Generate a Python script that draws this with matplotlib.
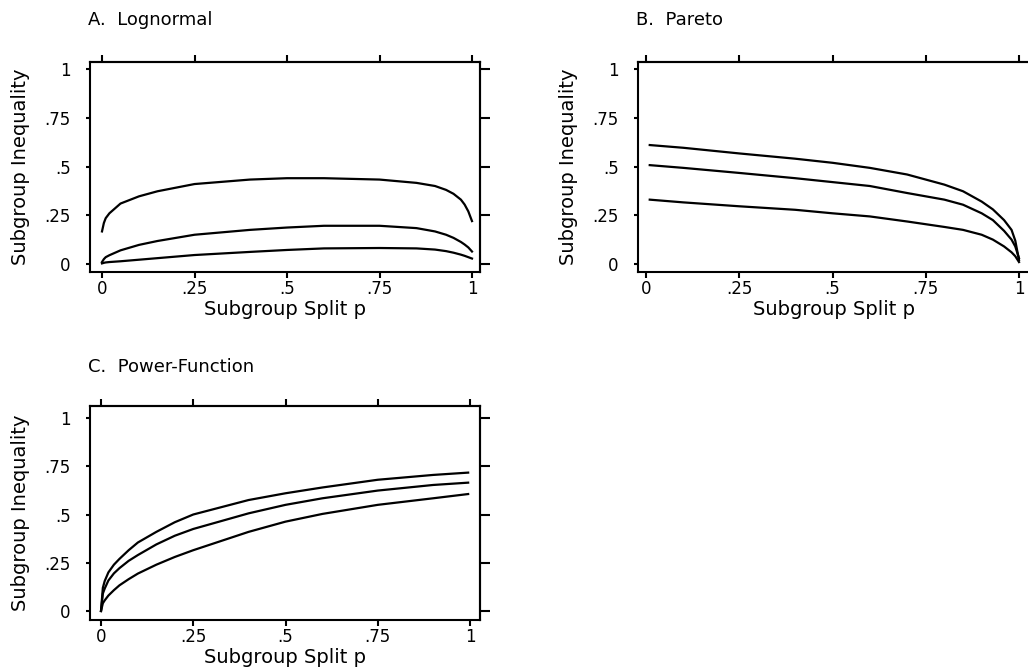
import matplotlib
matplotlib.use("Agg")
import matplotlib.pyplot as plt

# ---------------- data ----------------
p_lognormal = [0, 0.005, 0.01, 0.02, 0.05, 0.1, 0.15, 0.25, 0.4, 0.5, 0.6, 0.75, 0.85, 0.9, 0.93, 0.95, 0.97, 0.98, 0.99, 1.0]
lognormal_top = [0.167, 0.21, 0.235, 0.26, 0.31, 0.347, 0.373, 0.41, 0.433, 0.44, 0.44, 0.433, 0.416, 0.40, 0.38, 0.36, 0.33, 0.305, 0.27, 0.22]
lognormal_mid = [0.01, 0.025, 0.035, 0.045, 0.07, 0.098, 0.118, 0.15, 0.175, 0.187, 0.196, 0.196, 0.184, 0.167, 0.15, 0.134, 0.113, 0.1, 0.085, 0.064]
lognormal_bot = [0.003, 0.006, 0.008, 0.01, 0.014, 0.022, 0.03, 0.046, 0.062, 0.072, 0.08, 0.082, 0.08, 0.074, 0.066, 0.058, 0.048, 0.042, 0.035, 0.028]

p_pareto = [0.01, 0.1, 0.25, 0.4, 0.5, 0.6, 0.7, 0.8, 0.85, 0.9, 0.93, 0.96, 0.98, 0.99, 1.0]
pareto_top = [0.61, 0.596, 0.567, 0.54, 0.519, 0.493, 0.459, 0.407, 0.373, 0.32, 0.28, 0.225, 0.175, 0.12, 0.02]
pareto_mid = [0.507, 0.493, 0.467, 0.44, 0.42, 0.40, 0.364, 0.33, 0.304, 0.26, 0.225, 0.17, 0.125, 0.09, 0.03]
pareto_bot = [0.33, 0.316, 0.296, 0.278, 0.26, 0.244, 0.218, 0.19, 0.175, 0.15, 0.125, 0.09, 0.06, 0.04, 0.01]

p_power = [0, 0.005, 0.01, 0.02, 0.035, 0.05, 0.075, 0.1, 0.15, 0.2, 0.25, 0.4, 0.5, 0.6, 0.75, 0.9, 0.995]
power_top = [0.0, 0.12, 0.155, 0.2, 0.24, 0.27, 0.315, 0.355, 0.41, 0.46, 0.50, 0.575, 0.61, 0.64, 0.68, 0.705, 0.717]
power_mid = [0.0, 0.09, 0.116, 0.158, 0.195, 0.222, 0.26, 0.29, 0.345, 0.39, 0.425, 0.506, 0.55, 0.584, 0.624, 0.653, 0.665]
power_bot = [0.0, 0.04, 0.055, 0.08, 0.108, 0.133, 0.165, 0.194, 0.24, 0.28, 0.315, 0.41, 0.463, 0.503, 0.55, 0.584, 0.606]

tick_vals = [0, 0.25, 0.5, 0.75, 1]
tick_labels = ["0", ".25", ".5", ".75", "1"]
titles = ["A.  Lognormal", "B.  Pareto", "C.  Power-Function"]
xlabel = "Subgroup Split p"
ylabel = "Subgroup Inequality"

# ---------------- figure ----------------
W, H = 1028, 671
fig = plt.figure(figsize=(W / 100, H / 100), dpi=100)
plt.rcParams["font.family"] = "DejaVu Sans"


def px_axes(left, top, right, bottom):
    return fig.add_axes([left / W, 1 - bottom / H, (right - left) / W, (bottom - top) / H])


def make_panel(box, x0px, x1px, y1px, y0px, p, series, title, title_xy):
    left, top, right, bottom = box
    ax = px_axes(left, top, right, bottom)
    sx = (x1px - x0px)
    sy = (y0px - y1px)
    ax.set_xlim(-(x0px - left) / sx, 1 + (right - x1px) / sx)
    ax.set_ylim(-(bottom - y0px) / sy, 1 + (y1px - top) / sy)
    for s in series:
        ax.plot(p, s, color="black", lw=1.6, solid_joinstyle="round")
    for sp in ax.spines.values():
        sp.set_linewidth(1.5)
    ax.set_xticks(tick_vals)
    ax.set_xticklabels(tick_labels)
    ax.set_yticks(tick_vals)
    ax.set_yticklabels(tick_labels)
    ax.tick_params(axis="x", direction="out", length=4, width=1.5, labelsize=12, pad=2)
    ax.tick_params(axis="y", direction="out", length=3, width=1.5, labelsize=12, pad=11)
    ax.set_xlabel(xlabel, fontsize=14, labelpad=1)
    ax.set_ylabel(ylabel, fontsize=14, labelpad=10)
    # top and right ticks (no labels) with their own lengths
    axt = ax.secondary_xaxis("top")
    axt.set_xticks(tick_vals)
    axt.tick_params(axis="x", direction="out", length=5, width=1.5, labeltop=False)
    axt.spines["top"].set_linewidth(1.5)
    axr = ax.secondary_yaxis("right")
    axr.set_yticks(tick_vals)
    axr.tick_params(axis="y", direction="out", length=7, width=1.5, labelright=False)
    axr.spines["right"].set_linewidth(1.5)
    fig.text(title_xy[0] / W, 1 - title_xy[1] / H, title, fontsize=13,
             ha="left", va="baseline")
    return ax


make_panel((90, 62, 480, 272), 102, 472, 69, 264, p_lognormal,
           [lognormal_top, lognormal_mid, lognormal_bot], titles[0], (88, 25))
make_panel((638, 62, 1030, 272), 646, 1019, 69, 264, p_pareto,
           [pareto_top, pareto_mid, pareto_bot], titles[1], (636, 25))
make_panel((90, 406, 480, 620), 101, 470, 418, 611, p_power,
           [power_top, power_mid, power_bot], titles[2], (88, 372))

fig.savefig("out.png", dpi=100)
